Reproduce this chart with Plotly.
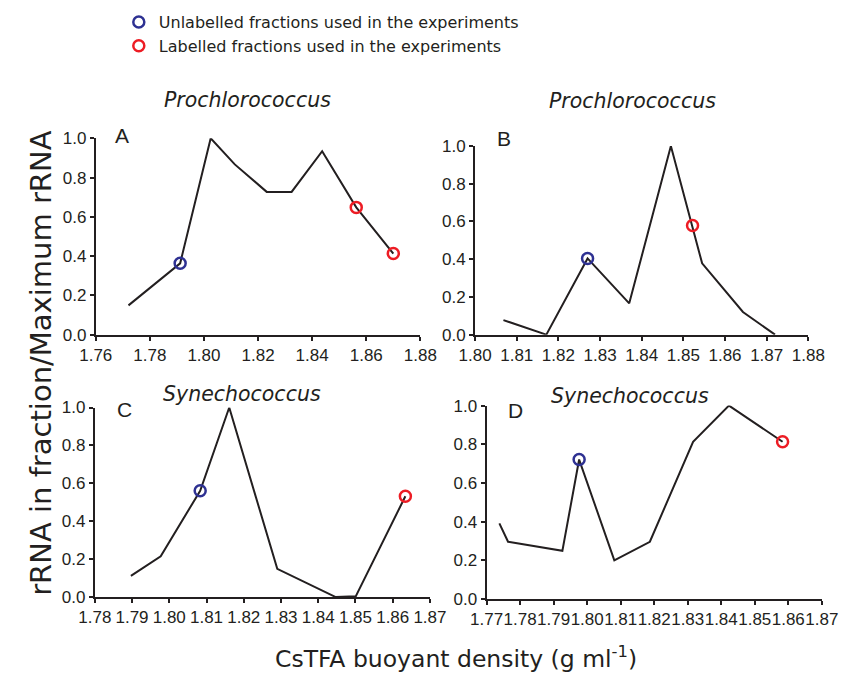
import plotly.graph_objects as go

# ---------------- data ----------------
A_density = [1.7721, 1.7912, 1.8025, 1.8114, 1.8232, 1.8324, 1.8437, 1.8563, 1.8700]
A_rrna = [0.149, 0.363, 1.000, 0.867, 0.727, 0.727, 0.934, 0.648, 0.413]
A_unlabelled_idx = [1]
A_labelled_idx = [7, 8]

B_density = [1.8068, 1.8171, 1.8270, 1.8370, 1.8470, 1.8522, 1.8545, 1.8643, 1.8720]
B_rrna = [0.077, 0.000, 0.404, 0.166, 1.000, 0.579, 0.378, 0.120, 0.000]
B_unlabelled_idx = [2]
B_labelled_idx = [5]

C_density = [1.7897, 1.7977, 1.8083, 1.8161, 1.8290, 1.8447, 1.8501, 1.8634]
C_rrna = [0.112, 0.215, 0.561, 1.000, 0.149, 0.000, 0.005, 0.532]
C_unlabelled_idx = [2]
C_labelled_idx = [7]

D_density = [1.7738, 1.7764, 1.7926, 1.7976, 1.8081, 1.8187, 1.8316, 1.8423, 1.8583]
D_rrna = [0.391, 0.296, 0.249, 0.721, 0.200, 0.296, 0.813, 1.000, 0.813]
D_unlabelled_idx = [3]
D_labelled_idx = [8]

A_xticks = [1.76, 1.78, 1.80, 1.82, 1.84, 1.86, 1.88]
B_xticks = [1.80, 1.81, 1.82, 1.83, 1.84, 1.85, 1.86, 1.87, 1.88]
C_xticks = [1.78, 1.79, 1.80, 1.81, 1.82, 1.83, 1.84, 1.85, 1.86, 1.87]
D_xticks = [1.77, 1.78, 1.79, 1.80, 1.81, 1.82, 1.83, 1.84, 1.85, 1.86, 1.87]
y_ticks = [0.0, 0.2, 0.4, 0.6, 0.8, 1.0]

panel_letters = ["A", "B", "C", "D"]
panel_titles = ["Prochlorococcus", "Prochlorococcus", "Synechococcus", "Synechococcus"]
legend_names = ["Unlabelled fractions used in the experiments",
                "Labelled fractions used in the experiments"]
y_title = "rRNA in fraction/Maximum rRNA"
x_title = "CsTFA buoyant density (g ml<sup>-1</sup>)"

# ---------------- styling / layout ----------------
W, H = 858, 679
INK = "#231f20"
BLUE = "#2e3192"
RED = "#ed1c24"
TICKFONT = dict(family="Liberation Sans, Arial, sans-serif", size=17, color=INK)
TEXTFONT = "DejaVu Sans, Verdana, sans-serif"

def px_x(p):
    return p / W

def px_y(p):
    return 1 - p / H

# plot areas in pixels: (left, right, top, bottom)
boxes = [(82, 420, 133, 335), (477, 824, 141, 335), (81, 430, 410, 605), (489, 838, 408, 607)]
panels = [
    (A_density, A_rrna, A_unlabelled_idx, A_labelled_idx, A_xticks),
    (B_density, B_rrna, B_unlabelled_idx, B_labelled_idx, B_xticks),
    (C_density, C_rrna, C_unlabelled_idx, C_labelled_idx, C_xticks),
    (D_density, D_rrna, D_unlabelled_idx, D_labelled_idx, D_xticks),
]
letter_pos = [(109.5, 130), (507, 133), (112, 412.5), (519.5, 413)]
title_pos = [(240.5, 94), (641, 95), (234.5, 396), (638.5, 398)]

fig = go.Figure()
layout = dict(
    width=W, height=H, margin=dict(l=0, r=0, t=0, b=0),
    paper_bgcolor="white", plot_bgcolor="white",
    showlegend=True,
    legend=dict(x=px_x(106), y=px_y(-4), xanchor="left", yanchor="top",
                font=dict(family=TEXTFONT, size=16, color=INK),
                bgcolor="rgba(0,0,0,0)", itemwidth=30, tracegroupgap=0),
)
annotations = []

for i, ((xs, ys, unl, lab, xt), (l, r, t, b)) in enumerate(zip(panels, boxes)):
    n = "" if i == 0 else str(i + 1)
    xa, ya = "x" + n, "y" + n
    layout["xaxis" + n] = dict(
        domain=[px_x(l), px_x(r)], range=[xt[0], xt[-1]], anchor=ya,
        tickvals=xt, tickformat=".2f", ticks="outside", ticklen=4, tickwidth=1.5,
        tickangle=0, tickcolor=INK, showline=True, linecolor=INK, linewidth=2,
        showgrid=False, zeroline=False, tickfont=TICKFONT, fixedrange=True)
    layout["yaxis" + n] = dict(
        domain=[px_y(b), px_y(t)], range=[0, 1.0], anchor=xa,
        tickvals=y_ticks, tickformat=".1f", ticks="outside", ticklen=4, tickwidth=1.5,
        tickcolor=INK, showline=True, linecolor=INK, linewidth=2,
        showgrid=False, zeroline=False, tickfont=TICKFONT, fixedrange=True)

    fig.add_trace(go.Scatter(x=xs, y=ys, mode="lines", xaxis=xa, yaxis=ya,
                             line=dict(color=INK, width=2), showlegend=False,
                             hoverinfo="x+y"))
    fig.add_trace(go.Scatter(x=[xs[k] for k in unl], y=[ys[k] for k in unl],
                             mode="markers", xaxis=xa, yaxis=ya, cliponaxis=False,
                             marker=dict(symbol="circle-open", size=11, color=BLUE,
                                         line=dict(width=2.5, color=BLUE)),
                             showlegend=False))
    fig.add_trace(go.Scatter(x=[xs[k] for k in lab], y=[ys[k] for k in lab],
                             mode="markers", xaxis=xa, yaxis=ya, cliponaxis=False,
                             marker=dict(symbol="circle-open", size=11, color=RED,
                                         line=dict(width=2.5, color=RED)),
                             showlegend=False))

    lx, ly = letter_pos[i]
    annotations.append(dict(text=panel_letters[i], x=px_x(lx), y=px_y(ly),
                            xref="paper", yref="paper", showarrow=False,
                            xanchor="center", yanchor="middle",
                            font=dict(family="Liberation Sans, Arial, sans-serif",
                                      size=21, color=INK)))
    tx, ty = title_pos[i]
    annotations.append(dict(text="<i>" + panel_titles[i] + "</i>", x=px_x(tx), y=px_y(ty),
                            xref="paper", yref="paper", showarrow=False,
                            xanchor="center", yanchor="middle",
                            font=dict(family=TEXTFONT, size=20.5, color=INK)))

# legend entries
for name, col, grp in zip(legend_names, [BLUE, RED], ["u", "l"]):
    fig.add_trace(go.Scatter(x=[None], y=[None], mode="markers", name=name, legendgroup=grp,
                             marker=dict(symbol="circle-open", size=11, color=col,
                                         line=dict(width=2.5, color=col))))

annotations.append(dict(text=y_title, x=px_x(25), y=px_y(364), xref="paper", yref="paper",
                        showarrow=False, textangle=-90, xanchor="center", yanchor="middle",
                        font=dict(family=TEXTFONT, size=29, color=INK)))
annotations.append(dict(text=x_title, x=px_x(457), y=px_y(667), xref="paper", yref="paper",
                        showarrow=False, xanchor="center", yanchor="middle",
                        font=dict(family=TEXTFONT, size=23.5, color=INK)))

layout["annotations"] = annotations
fig.update_layout(**layout)

fig.write_html("out.html", config={"displayModeBar": False},
               post_script="document.body.style.margin='0';document.body.style.overflow='hidden';")
